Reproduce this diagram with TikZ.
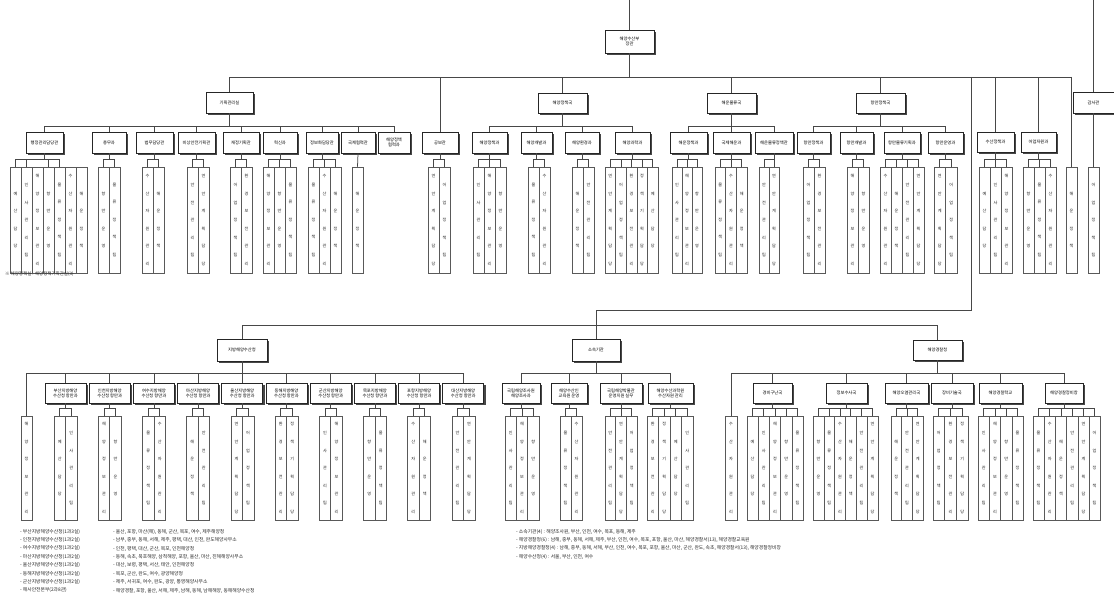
\documentclass[tikz,border=0pt]{standalone}
\usepackage{fontspec}
\newfontfamily\kr{Noto Sans CJK KR}
\usetikzlibrary{shadows,calc}
\tikzset{
 orgbox/.style={draw=black!85, fill=white, line width=0.65pt, inner sep=0.5pt, align=center, font=\kr\fontsize{4.3}{5.2}\selectfont, drop shadow={shadow xshift=1.7pt, shadow yshift=-1.7pt, fill=black!80, opacity=0.9}},
 colbox/.style={draw=black!65, line width=0.5pt, inner sep=0pt, align=center, font=\kr\fontsize{4.1}{17.5}\selectfont, text=black!85},
 conn/.style={draw=black!72, line width=0.75pt},
 legend/.style={inner sep=0pt, align=left, anchor=north west, font=\kr\fontsize{4.8}{8.4}\selectfont, text=black!85},
}
\expandafter\def\csname cw0\endcsname{정\\책\\기\\획\\담\\당}
\expandafter\def\csname cw1\endcsname{예\\산\\담\\당}
\expandafter\def\csname cw2\endcsname{인\\사\\관\\리\\팀}
\expandafter\def\csname cw3\endcsname{해\\양\\정\\보\\관\\리}
\expandafter\def\csname cw4\endcsname{항\\만\\운\\영}
\expandafter\def\csname cw5\endcsname{물\\류\\정\\책\\팀}
\expandafter\def\csname cw6\endcsname{수\\산\\자\\원\\관\\리}
\expandafter\def\csname cw7\endcsname{해\\운\\정\\책}
\expandafter\def\csname cw8\endcsname{안\\전\\관\\리\\팀}
\expandafter\def\csname cw9\endcsname{연\\안\\계\\획\\담\\당}
\expandafter\def\csname cw10\endcsname{어\\업\\정\\책\\팀}
\expandafter\def\csname cw11\endcsname{환\\경\\보\\전\\관\\리}
\newcommand\ob[6]{%
 \pgfmathsetmacro\obX{(#2+#3)/2}%
 \pgfmathsetmacro\obY{(#4+#5)/2}%
 \pgfmathsetmacro\obW{#3-#2}%
 \pgfmathsetmacro\obH{#5-#4}%
 \node[orgbox,minimum width=\obW pt,minimum height=\obH pt] (#1) at (\obX,\obY) {#6};}
\newcommand\colset[7]{%
 \foreach \i in {1,...,#5}{%
  \pgfmathsetmacro\csX{#2+(\i-0.5)*#6}%
  \pgfmathsetmacro\csY{(#3+#4)/2}%
  \pgfmathtruncatemacro\csK{mod(\i+#7,12)}%
  \node[colbox,minimum width=#6 pt,minimum height=#4pt-#3pt] (#1-\i) at (\csX,\csY) {\csname cw\csK\endcsname};
 }}
\newcommand\brk[5]{%
 \path (#2-#3.north) ++(0,-7.5) coordinate (#2-bar);
 \draw[conn] (#1.south) -- (#1.south |- #2-bar);
 \draw[conn] (#2-#3.north |- #2-bar) -- (#2-#4.north |- #2-bar);
 \foreach \j in {#5}{\draw[conn] (#2-\j.north) -- (#2-\j.north |- #2-bar);}}
\begin{document}
\begin{tikzpicture}[x=1pt,y=-1pt]
\fill[white] (0,0) rectangle (1114,599);
\useasboundingbox (0,0) rectangle (1114,599);
% ---------- top ----------
\ob{T}{605}{654}{30}{53}{해양수산부\\장관}
\coordinate (topin) at (629.5,0);
\coordinate (mainL) at (229.5,77);
\coordinate (mainR) at (1071.5,77);
\draw[conn] (topin) -- (T.north);
\draw[conn] (T.south) -- (T.south |- mainL);
\draw[conn] (mainL) -- (mainR);
% level 1
\ob{A}{206}{253}{92}{113}{기획관리실}
\ob{B}{422}{458}{132}{153}{공보관}
\ob{C}{538}{587}{93}{113}{해양정책국}
\ob{D}{707}{756}{93}{113}{해운물류국}
\ob{E}{856}{905}{93}{113}{항만정책국}
\ob{F1}{977}{1014}{132}{152}{수산정책과}
\ob{F2}{1021}{1056}{132}{152}{어업자원과}
\ob{H}{1073}{1114}{92}{113}{감사관}
\foreach \n in {A,B,C,D,E,F1,F2}{\draw[conn] (\n.north) -- (\n.north |- mainL);}
\coordinate (hin) at (1093.5,0);
\draw[conn] (hin) -- (H.north);
% level 2 under A
\ob{A1}{26}{63}{132}{153}{행정관리담당관}
\ob{A2}{92}{126}{132}{153}{총무과}
\ob{A3}{136}{173}{132}{153}{법무담당관}
\ob{A4}{178}{215}{132}{153}{비상안전기획관}
\ob{A5}{223}{259}{132}{153}{재정기획관}
\ob{A6}{263}{297}{132}{153}{혁신과}
\ob{A7}{306}{338}{132}{153}{정보화담당관}
\ob{A8}{341}{375}{132}{153}{국제협력관}
\ob{A9}{378}{410}{132}{153}{해양정책\\협력과}
\coordinate (abar) at (229.5,126);
\draw[conn] (A.south) -- (abar);
\draw[conn] (A1.north |- abar) -- (A9.north |- abar);
\foreach \n in {A1,A2,A3,A4,A5,A6,A7,A8,A9}{\draw[conn] (\n.north) -- (\n.north |- abar);}
% under C
\ob{C1}{472}{507}{132}{153}{해양정책과}
\ob{C2}{521}{552}{132}{153}{해양개발과}
\ob{C3}{565}{599}{132}{153}{해양환경과}
\ob{C4}{615}{650}{132}{153}{해양과학과}
\coordinate (cbar) at (562.5,126);
\draw[conn] (C.south) -- (cbar);
\draw[conn] (C1.north |- cbar) -- (C4.north |- cbar);
\foreach \n in {C1,C2,C3,C4}{\draw[conn] (\n.north) -- (\n.north |- cbar);}
% under D
\ob{D1}{670}{707}{132}{153}{해운정책과}
\ob{D2}{713}{750}{132}{153}{국제해운과}
\ob{D3}{755}{793}{132}{153}{해운물류정책관}
\coordinate (dbar) at (731.5,126);
\draw[conn] (D.south) -- (dbar);
\draw[conn] (D1.north |- dbar) -- (D3.north |- dbar);
\foreach \n in {D1,D2,D3}{\draw[conn] (\n.north) -- (\n.north |- dbar);}
% under E
\ob{E1}{797}{830}{132}{153}{항만정책과}
\ob{E2}{840}{873}{132}{153}{항만개발과}
\ob{E3}{884}{920}{132}{153}{항만물류기획과}
\ob{E4}{928}{963}{132}{153}{항만운영과}
\coordinate (ebar) at (880.5,126);
\draw[conn] (E.south) -- (ebar);
\draw[conn] (E1.north |- ebar) -- (E4.north |- ebar);
\foreach \n in {E1,E2,E3,E4}{\draw[conn] (\n.north) -- (\n.north |- ebar);}
% top columns
\colset{a1}{10}{167}{273}{7}{11}{0}  \brk{A1}{a1}{1}{5}{1,2,4,5}
\colset{a2}{98}{167}{273}{2}{11}{3}  \brk{A2}{a2}{1}{2}{1,2}
\colset{a3}{142}{167}{273}{2}{11}{5} \brk{A3}{a3}{1}{2}{1,2}
\colset{a4}{187}{167}{273}{2}{11}{7} \brk{A4}{a4}{1}{2}{1,2}
\colset{a5}{230}{167}{273}{2}{11}{9} \brk{A5}{a5}{1}{2}{1,2}
\colset{a6}{263}{167}{273}{3}{11}{2} \brk{A6}{a6}{1}{3}{1,2,3}
\colset{a7}{308}{167}{273}{3}{11}{4} \brk{A7}{a7}{1}{3}{1,2,3}
\colset{a8}{352}{167}{273}{1}{11}{6} \draw[conn] (A8.south) -- (a8-1.north);
\colset{b}{428}{167}{273}{2}{11}{8}  \brk{B}{b}{1}{2}{1,2}
\colset{c1}{473}{167}{273}{3}{11}{1} \brk{C1}{c1}{1}{3}{1,2,3}
\colset{c2}{528}{167}{273}{2}{11}{4} \brk{C2}{c2}{1}{2}{1,2}
\colset{c3}{572}{167}{273}{2}{11}{6} \brk{C3}{c3}{1}{2}{1,2}
\colset{c4}{605}{167}{273}{5}{10.6}{8} \brk{C4}{c4}{1}{5}{1,2,3,4,5}
\colset{d1}{672}{167}{273}{3}{10}{1} \brk{D1}{d1}{1}{3}{1,2,3}
\colset{d2}{715}{167}{273}{3}{10.7}{4} \brk{D2}{d2}{1}{3}{1,2,3}
\colset{d3}{759}{167}{273}{2}{10}{7} \brk{D3}{d3}{1}{2}{1,2}
\colset{e1}{803}{167}{273}{2}{11}{9} \brk{E1}{e1}{1}{2}{1,2}
\colset{e2}{847}{167}{273}{2}{11}{2} \brk{E2}{e2}{1}{2}{1,2}
\colset{e3}{880}{167}{273}{4}{11}{5} \brk{E3}{e3}{1}{4}{1,2,3,4}
\colset{e4}{934}{167}{273}{2}{11.5}{8} \brk{E4}{e4}{1}{2}{1,2}
\colset{f1}{979}{167}{273}{3}{11}{0} \brk{F1}{f1}{1}{3}{1,2,3}
\colset{f2}{1023}{167}{273}{3}{11}{3} \brk{F2}{f2}{1}{3}{1,2,3}
\colset{g}{1066}{167}{273}{1}{11}{6} \draw[conn] (mainR) -- (g-1.north);
\colset{h}{1088}{167}{273}{1}{11}{9} \draw[conn] (H.south) -- (h-1.north);
\node[legend,font=\kr\fontsize{4.5}{5}\selectfont] (fn) at (5,272) {※ 해양정책실 : 해양정책기획관실(3)};
% ---------- lower part ----------
\ob{P}{217}{267}{339}{361}{지방해양수산청}
\ob{Q}{572}{620}{339}{361}{소속기관}
\ob{R}{913}{962}{340}{360}{해양경찰청}
\coordinate (mid1) at (971,77);
\coordinate (mid2) at (971,310);
\coordinate (mid3) at (596,310);
\coordinate (lowbar) at (596,325);
\draw[conn] (mid1) -- (mid2) -- (mid3) -- (Q.north);
\draw[conn] (P.north) -- (P.north |- lowbar) -- (R.north |- lowbar) -- (R.north);
% under P
\ob{P1}{45}{86}{383}{403}{부산지방해양\\수산청 항만과}
\ob{P2}{89.2}{130.2}{383}{403}{인천지방해양\\수산청 항만과}
\ob{P3}{133.4}{174.4}{383}{403}{여수지방해양\\수산청 항만과}
\ob{P4}{177.6}{218.6}{383}{403}{마산지방해양\\수산청 항만과}
\ob{P5}{221.8}{262.8}{383}{403}{울산지방해양\\수산청 항만과}
\ob{P6}{266}{307}{383}{403}{동해지방해양\\수산청 항만과}
\ob{P7}{310.2}{351.2}{383}{403}{군산지방해양\\수산청 항만과}
\ob{P8}{354.4}{395.4}{383}{403}{목포지방해양\\수산청 항만과}
\ob{P9}{398.6}{439.6}{383}{403}{포항지방해양\\수산청 항만과}
\ob{P10}{442.8}{483.8}{383}{403}{대산지방해양\\수산청 항만과}
\colset{p0}{21}{416}{520}{1}{11}{2}
\coordinate (pbar) at (242,373);
\draw[conn] (P.south) -- (pbar);
\draw[conn] (p0-1.north) -- (p0-1.north |- pbar) -- (P10.north |- pbar);
\foreach \n in {P1,P2,P3,P4,P5,P6,P7,P8,P9,P10}{\draw[conn] (\n.north) -- (\n.north |- pbar);}
\colset{p1}{54}{416}{520}{2}{11.5}{0} \brk{P1}{p1}{1}{2}{1,2}
\colset{p2}{98.2}{416}{520}{2}{11.5}{2} \brk{P2}{p2}{1}{2}{1,2}
\colset{p3}{142.4}{416}{520}{2}{11.5}{4} \brk{P3}{p3}{1}{2}{1,2}
\colset{p4}{186.6}{416}{520}{2}{11.5}{6} \brk{P4}{p4}{1}{2}{1,2}
\colset{p5}{230.8}{416}{520}{2}{11.5}{8} \brk{P5}{p5}{1}{2}{1,2}
\colset{p6}{275}{416}{520}{2}{11.5}{10} \brk{P6}{p6}{1}{2}{1,2}
\colset{p7}{319.2}{416}{520}{2}{11.5}{1} \brk{P7}{p7}{1}{2}{1,2}
\colset{p8}{363.4}{416}{520}{2}{11.5}{3} \brk{P8}{p8}{1}{2}{1,2}
\colset{p9}{407.6}{416}{520}{2}{11.5}{5} \brk{P9}{p9}{1}{2}{1,2}
\colset{p10}{451.8}{416}{520}{2}{11.5}{7} \brk{P10}{p10}{1}{2}{1,2}
% under Q
\ob{Q1}{502}{540}{383}{403}{국립해양조사원\\해양조사과}
\ob{Q2}{551}{587}{383}{403}{해양수산인\\교육원 운영}
\ob{Q3}{600}{642}{383}{403}{국립해양박물관\\운영지원 실무}
\ob{Q4}{648}{693}{383}{403}{해양수산과학원\\수산자원 관리}
\coordinate (qbar) at (596,373);
\draw[conn] (Q.south) -- (qbar);
\draw[conn] (Q1.north |- qbar) -- (Q4.north |- qbar);
\foreach \n in {Q1,Q2,Q3,Q4}{\draw[conn] (\n.north) -- (\n.north |- qbar);}
\colset{q1}{505}{416}{520}{3}{11.3}{1} \brk{Q1}{q1}{1}{3}{1,2,3}
\colset{q2}{560}{416}{520}{2}{11}{4} \brk{Q2}{q2}{1}{2}{1,2}
\colset{q3}{605}{416}{520}{3}{10.7}{7} \brk{Q3}{q3}{1}{3}{1,2,3}
\colset{q4}{647}{416}{520}{4}{11.5}{10} \brk{Q4}{q4}{1}{4}{1,2,3,4}
% under R
\ob{R1}{753}{792}{383}{403}{경비구난국}
\ob{R2}{826}{867}{383}{403}{정보수사국}
\ob{R3}{885}{928}{383}{403}{해양오염관리국}
\ob{R4}{931}{973}{383}{403}{장비기술국}
\ob{R5}{979}{1022}{383}{403}{해양경찰학교}
\ob{R6}{1045}{1083}{383}{403}{해양경찰정비창}
\colset{r0}{725}{416}{520}{1}{12}{5}
\coordinate (rbar) at (937.5,373);
\draw[conn] (R.south) -- (rbar);
\draw[conn] (r0-1.north) -- (r0-1.north |- rbar) -- (R6.north |- rbar);
\foreach \n in {R1,R2,R3,R4,R5,R6}{\draw[conn] (\n.north) -- (\n.north |- rbar);}
\colset{r1}{747}{416}{520}{5}{11.2}{0} \brk{R1}{r1}{1}{5}{1,2,3,4,5}
\colset{r2}{813}{416}{520}{6}{10.8}{3} \brk{R2}{r2}{1}{6}{1,2,3,4,5,6}
\colset{r3}{891}{416}{520}{3}{10.7}{6} \brk{R3}{r3}{1}{3}{1,2,3}
\colset{r4}{933}{416}{520}{3}{11.7}{9} \brk{R4}{r4}{1}{3}{1,2,3}
\colset{r5}{978}{416}{520}{4}{11.25}{1} \brk{R5}{r5}{1}{4}{1,2,3,4}
\colset{r6}{1033}{416}{520}{6}{11.2}{4} \brk{R6}{r6}{1}{6}{1,2,3,4,5,6}
% ---------- legends ----------
\node[legend] (lg1) at (20,529) {- 부산지방해양수산청(1과3실)\\- 인천지방해양수산청(1과2실)\\- 여수지방해양수산청(1과2실)\\- 마산지방해양수산청(1과2실)\\- 울산지방해양수산청(1과2실)\\- 동해지방해양수산청(1과2실)\\- 군산지방해양수산청(1과2실)\\- 해사안전본부(2과8관)};
\node[legend] (lg2) at (113,529) {- 울산, 포항, 마산(해), 동해, 군산, 목포, 여수, 제주해양청\\- 남부, 중부, 동해, 서해, 제주, 평택, 대산, 인천, 완도해양사무소\\- 인천, 평택, 대산, 군산, 목포, 인천해양청\\- 동해, 속초, 묵호해양, 삼척해양, 포항, 울산, 마산, 진해해양사무소\\- 대산, 보령, 평택, 서산, 태안, 인천해양청\\- 목포, 군산, 완도, 여수, 광양해양청\\- 제주, 서귀포, 여수, 완도, 광양, 통영해양사무소\\- 해양경찰, 포항, 울산, 서해, 제주, 남해, 동해, 남해해양, 동해해양수산청};
\node[legend] (lg3) at (516,529) {- 소속기관(4) : 해양조사원, 부산, 인천, 여수, 목포, 동해, 제주\\- 해양경찰청(6) : 남해, 중부, 동해, 서해, 제주, 부산, 인천, 여수, 목포, 포항, 울산, 마산, 해양경찰서(13), 해양경찰교육원\\- 지방해양경찰청(4) : 남해, 중부, 동해, 서해, 부산, 인천, 여수, 목포, 포항, 울산, 마산, 군산, 완도, 속초, 해양경찰서(13), 해양경찰정비창\\- 해양수산청(4) : 서울, 부산, 인천, 여수};
\end{tikzpicture}
\end{document}
